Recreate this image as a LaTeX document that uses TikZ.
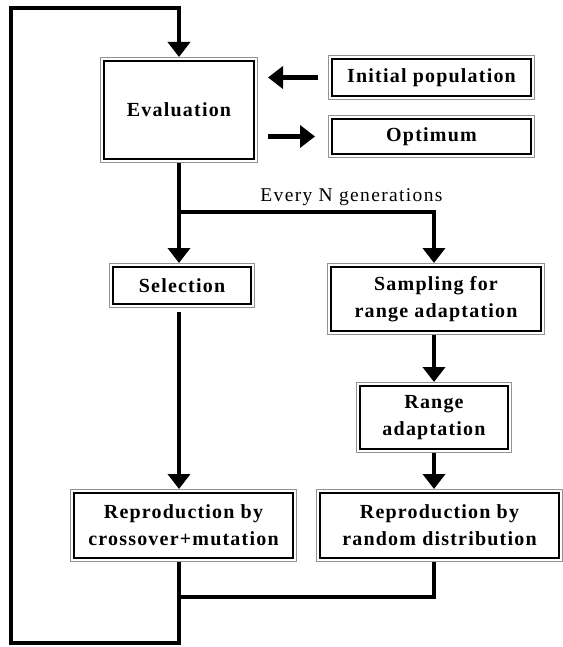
\documentclass[tikz,border=0pt]{standalone}
\usepackage{fontspec}
\setmainfont{Liberation Serif}
\newfontfamily\boxfont{Liberation Serif}[LetterSpace=6]
\newfontfamily\notefont{Liberation Serif}[LetterSpace=7]
\usetikzlibrary{arrows.meta}
\tikzset{
blk/.style={draw=black, line width=2.8pt, fill=white, align=center, inner sep=0pt, outer sep=4pt,
font=\boxfont\bfseries\fontsize{20}{27}\selectfont,
preaction={draw=gray!85, line width=8pt},
preaction={draw=white, line width=6pt}},
flow/.style={line width=4.5pt, -{Triangle[width=22pt,length=15pt]}},
wire/.style={line width=4.5pt}
}
\begin{document}
\begin{tikzpicture}[x=1pt,y=-1pt]
\useasboundingbox (0,0) rectangle (562,647);
\node[blk, minimum width=150pt, minimum height=98pt] (eval) at (179,110) {Evaluation};
\node[blk, minimum width=199pt, minimum height=37pt] (init) at (431.5,77.5) {Initial population};
\node[blk, minimum width=199pt, minimum height=35pt] (opt) at (431.5,136.5) {Optimum};
\node[blk, minimum width=138pt, minimum height=37pt] (sel) at (182,285.5) {Selection};
\node[blk, minimum width=210pt, minimum height=64pt] (samp) at (436,299) {Sampling for\\range adaptation};
\node[blk, minimum width=148pt, minimum height=63pt] (range) at (434,417.5) {Range\\adaptation};
\node[blk, minimum width=219pt, minimum height=65pt] (repA) at (183.5,525.5) {Reproduction by\\crossover+mutation};
\node[blk, minimum width=239pt, minimum height=65pt] (repB) at (439.5,525.5) {Reproduction by\\random distribution};
\node[font=\notefont\fontsize{19.5}{22}\selectfont, inner sep=0pt, anchor=base] (every) at (351.5,201) {Every N generations};
% columns and bends
\coordinate (colL) at (179,0);
\coordinate (colR) at (434,0);
\coordinate (split) at (179,212);
\coordinate (join) at (179,597);
\coordinate (loopB) at (11,643);
\coordinate (loopT) at (11,8);
\coordinate (evR) at ([xshift=10pt]eval.east);
% main loop
\draw[flow] (repA.south -| colL) |- (loopB) -- (loopT) -| (eval.north -| colL);
\draw[flow] (eval.south) -- (sel.north -| colL);
\draw[flow] (split) -| (samp.north -| colR);
\draw[flow] ([xshift=-10pt]init.west) -- (evR |- init.west);
\draw[flow] (evR |- opt.west) -- ([xshift=-13pt]opt.west);
\draw[flow] ([yshift=-4pt]sel.south -| colL) -- (repA.north -| colL);
\draw[flow] (samp.south -| colR) -- (range.north -| colR);
\draw[flow] (range.south -| colR) -- (repB.north -| colR);
\draw[wire] (repB.south -| colR) |- (join);
\end{tikzpicture}
\end{document}
